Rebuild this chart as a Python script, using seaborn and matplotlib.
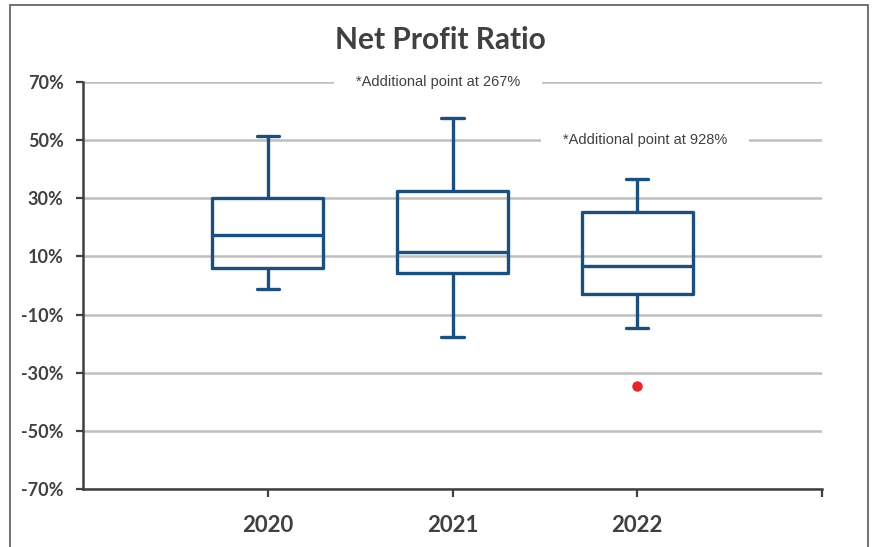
import seaborn as sns
import numpy as np
import pandas as pd
import matplotlib.pyplot as plt
from matplotlib.patches import Rectangle

# values (percent)
years = ['2020', '2021', '2022']
lows = [-1.3, -17.6, -14.7]
q1s = [5.9, 4.2, -3.0]
medians = [17.4, 11.6, 6.7]
q3s = [30.2, 32.6, 25.2]
highs = [51.5, 57.7, 36.5]
outlier_years = ['2022']
outlier_vals = [-34.6]
note_text = ['*Additional point at 267%', '*Additional point at 928%']
yticks = [-70, -50, -30, -10, 10, 30, 50, 70]

# five-number summary per year -> long table for seaborn
rows = []
for i, y in enumerate(years):
    for v in [lows[i], q1s[i], medians[i], q3s[i], highs[i]]:
        rows.append({'year': y, 'ratio': v})
df = pd.DataFrame(rows)
out_df = pd.DataFrame({'year': outlier_years, 'ratio': outlier_vals})

sns.set_style('white')
plt.rcParams['font.family'] = ['Lato', 'DejaVu Sans']

box_col = '#1B4F7E'
txt_col = '#404040'

fig = plt.figure(figsize=(8.75, 5.47), dpi=100)
ax = fig.add_axes([83/875, 1-489/547, (822-83)/875, (489-82)/547])

for y in yticks:
    ax.axhline(y, color='#BFBFBF', lw=1.8, zorder=0)

sns.boxplot(data=df, x='year', y='ratio', order=years, ax=ax, fill=False,
            color=box_col, linewidth=2.4, width=0.6, whis=(0, 100),
            capwidths=0.12, zorder=3)
sns.stripplot(data=out_df, x='year', y='ratio', order=years, ax=ax,
              jitter=False, color='#E8262A', size=7.5, zorder=4)

ax.set_xlim(-1, 3)
ax.set_ylim(-70, 70)
ax.set_yticks(yticks)
ax.set_yticklabels([f'{t}%' for t in yticks], fontsize=13, fontweight='bold',
                   color=txt_col)
ax.set_xticks([0, 1, 2, 3])
ax.set_xticklabels(years + [''], fontsize=16, fontweight='bold', color=txt_col)
ax.set_xlabel('')
ax.set_ylabel('')
ax.tick_params(axis='y', length=5, width=1.6, color=txt_col, pad=9, left=True)
ax.tick_params(axis='x', length=6, width=1.6, color=txt_col, pad=13, bottom=True)
for s in ['top', 'right']:
    ax.spines[s].set_visible(False)
for s in ['left', 'bottom']:
    ax.spines[s].set_color(txt_col)
    ax.spines[s].set_linewidth(1.8)

# notes about points outside the range
ax.text(0.92, 70, note_text[0], ha='center', va='center', fontsize=10.5,
        family=['Liberation Sans'], color=txt_col, zorder=5,
        bbox=dict(facecolor='white', edgecolor='none', boxstyle='square,pad=1.5'))
ax.text(2.04, 50, note_text[1], ha='center', va='center', fontsize=10.5,
        family=['Liberation Sans'], color=txt_col, zorder=5,
        bbox=dict(facecolor='white', edgecolor='none', boxstyle='square,pad=1.5'))

fig.suptitle('Net Profit Ratio', x=0.503, y=1-40/547, va='center',
             fontsize=21.5, fontweight='bold', color=txt_col)

fig.patches.append(Rectangle((10/875, -0.1), (868-10)/875, 1.1-5/547,
                             transform=fig.transFigure, fill=False,
                             edgecolor='#595959', lw=1.2))

fig.savefig('out.png', dpi=100)
